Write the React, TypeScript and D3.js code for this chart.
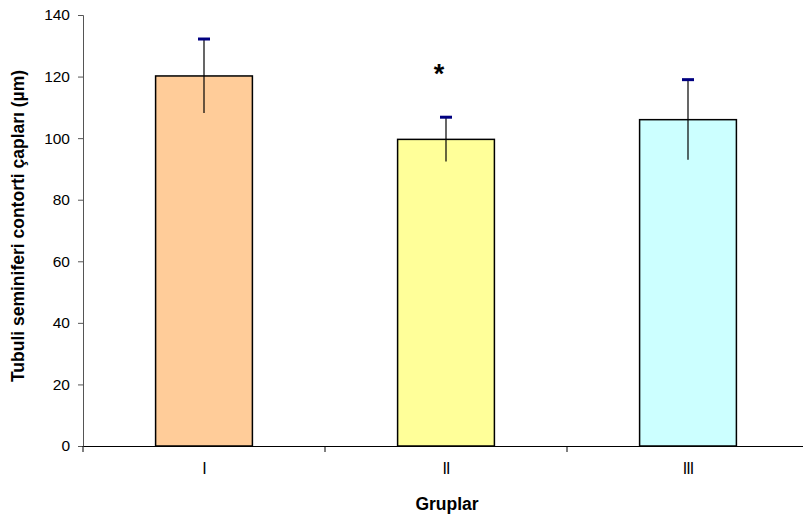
import React, {useEffect, useRef} from 'react';
import * as d3 from 'd3';

const groups = ['I', 'II', 'III'];
const means = [120.2, 99.6, 106.0];
const sds = [12.0, 7.2, 13.0];
const barColors = ['#FFCC99', '#FFFF99', '#CCFFFF'];
const yTicks = [0, 20, 40, 60, 80, 100, 120, 140];
const starGroup = 'II';
const starValue = 122;

function App() {
    const svgRef = useRef<SVGSVGElement>(null);

    useEffect(() => {
        const svg = d3.select(svgRef.current);
        svg.selectAll('*').remove();

        const x = d3.scaleBand<string>().domain(groups).range([83, 809]).padding(0);
        const y = d3.scaleLinear().domain([0, 140]).range([446, 15]);
        const barW = x.bandwidth() * 0.4;
        const font = 'Arial, "Liberation Sans", sans-serif';

        // y axis
        const yAxis = d3.axisLeft(y).tickValues(yTicks).tickSize(5).tickPadding(8);
        const gy = svg.append('g').attr('transform', 'translate(83,0)').call(yAxis);
        gy.select('.domain').attr('stroke', '#555').attr('stroke-width', 1);
        gy.selectAll('.tick line').attr('stroke', '#555');
        gy.selectAll('.tick text').attr('font-family', font).attr('font-size', 15.5).attr('fill', '#000');

        // bars
        svg.selectAll('.bar')
            .data(groups)
            .join('rect')
            .attr('class', 'bar')
            .attr('x', (d) => x(d)! + x.bandwidth() / 2 - barW / 2)
            .attr('width', barW)
            .attr('y', (d, i) => y(means[i]))
            .attr('height', (d, i) => y(0) - y(means[i]))
            .attr('fill', (d, i) => barColors[i])
            .attr('stroke', '#000')
            .attr('stroke-width', 1.5);

        // error bars
        svg.selectAll('.err')
            .data(groups)
            .join('line')
            .attr('class', 'err')
            .attr('x1', (d) => x(d)! + x.bandwidth() / 2)
            .attr('x2', (d) => x(d)! + x.bandwidth() / 2)
            .attr('y1', (d, i) => y(means[i] - sds[i]))
            .attr('y2', (d, i) => y(means[i] + sds[i]))
            .attr('stroke', '#000')
            .attr('stroke-width', 1.2);
        svg.selectAll('.cap')
            .data(groups)
            .join('line')
            .attr('class', 'cap')
            .attr('x1', (d) => x(d)! + x.bandwidth() / 2 - 6)
            .attr('x2', (d) => x(d)! + x.bandwidth() / 2 + 6)
            .attr('y1', (d, i) => y(means[i] + sds[i]))
            .attr('y2', (d, i) => y(means[i] + sds[i]))
            .attr('stroke', '#000080')
            .attr('stroke-width', 3);

        // x axis
        const xAxis = d3.axisBottom(x).tickSize(0).tickPadding(17);
        const gx = svg.append('g').attr('transform', 'translate(0,446)').call(xAxis);
        gx.select('.domain').attr('stroke', '#000').attr('stroke-width', 1.2);
        gx.selectAll('.tick text')
            .attr('font-family', font)
            .attr('font-size', 16)
            .attr('letter-spacing', -1)
            .attr('fill', '#000');
        svg.selectAll('.xsep')
            .data(groups)
            .join('line')
            .attr('class', 'xsep')
            .attr('x1', (d) => x(d)!)
            .attr('x2', (d) => x(d)!)
            .attr('y1', 446)
            .attr('y2', 452)
            .attr('stroke', '#000');

        // significance mark
        svg.append('text')
            .attr('x', x(starGroup)! + x.bandwidth() / 2 - 7)
            .attr('y', y(starValue) + 13)
            .attr('text-anchor', 'middle')
            .attr('font-family', font)
            .attr('font-size', 27)
            .attr('font-weight', 'bold')
            .text('*');

        // titles
        svg.append('text')
            .attr('x', 447)
            .attr('y', 504)
            .attr('text-anchor', 'middle')
            .attr('dominant-baseline', 'central')
            .attr('font-family', font)
            .attr('font-size', 17.5)
            .attr('font-weight', 'bold')
            .text('Gruplar');
        svg.append('text')
            .attr('transform', 'translate(18,226) rotate(-90)')
            .attr('text-anchor', 'middle')
            .attr('dominant-baseline', 'central')
            .attr('font-family', font)
            .attr('font-size', 17.5)
            .attr('font-weight', 'bold')
            .text('Tubuli seminiferi contorti çapları (µm)');
    }, []);

    return (
        <div style={{position: 'absolute', left: 0, top: 0}}>
            <svg ref={svgRef} width={803} height={519} style={{display: 'block', background: '#fff'}} />
        </div>
    );
}

export default App;
